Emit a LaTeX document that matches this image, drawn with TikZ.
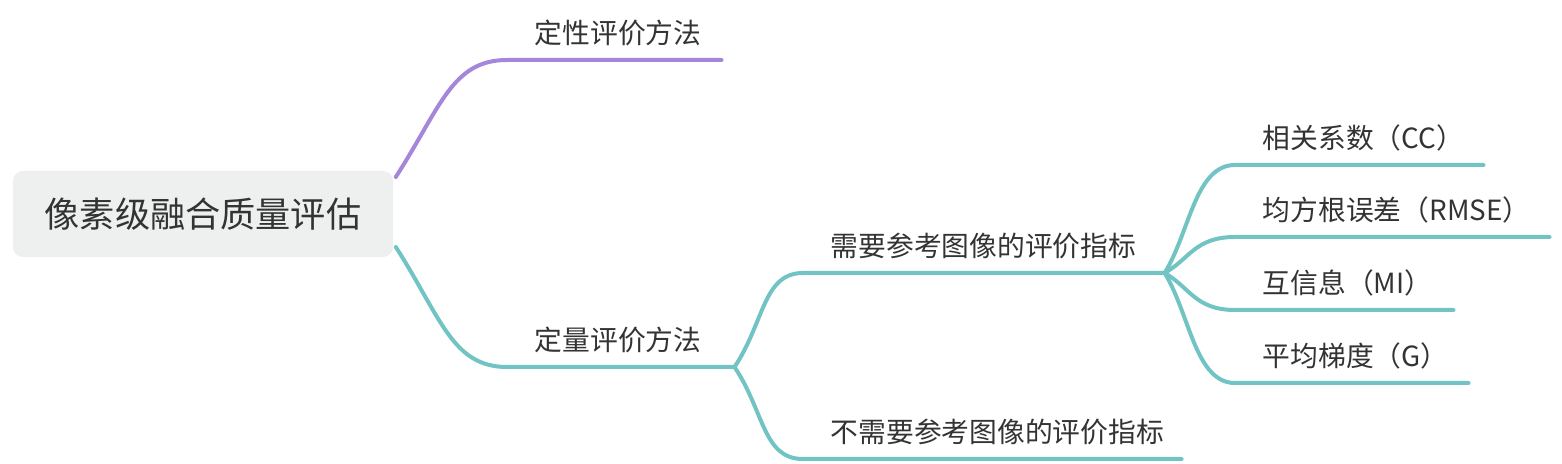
\documentclass[tikz,border=0pt]{standalone}
\usepackage{fontspec}
\setmainfont{Noto Sans CJK SC}
\usetikzlibrary{positioning}
\definecolor{rootfill}{HTML}{EEF0F0}
\definecolor{qualcolor}{HTML}{A586DB}
\definecolor{quantcolor}{HTML}{72C4C4}
\definecolor{inkcolor}{HTML}{333333}
\tikzset{
  root/.style={fill=rootfill, rounded corners=1mm, minimum width=38mm, minimum height=8.6mm, font=\fontsize{10}{12}\selectfont, text=inkcolor},
  topic/.style={text width=#1, inner xsep=0pt, inner ysep=1.55mm, text depth=0pt, align=left, anchor=south west, font=\fontsize{7.9}{10}\selectfont, text=inkcolor, execute at begin node=\hspace*{2.7mm}},
  qualline/.style={qualcolor, line width=0.4mm, line cap=round},
  quantline/.style={quantcolor, line width=0.4mm, line cap=round}
}

\begin{document}
\begin{tikzpicture}[x=0.01cm, y=-0.01cm]
\useasboundingbox (0,0) rectangle (1562,464);
\node[root] (root) at (203,214) {像素级融合质量评估};
\node[topic=21.3mm] (qual) at (507,60) {定性评价方法};
\node[topic=22.6mm] (quant) at (507,367) {定量评价方法};
\node[topic=36mm] (ref) at (803,273) {需要参考图像的评价指标};
\node[topic=37.7mm] (noref) at (803,459) {不需要参考图像的评价指标};
\node[topic=24.7mm] (cc) at (1235,165) {相关系数（CC）};
\node[topic=31.3mm] (rmse) at (1235,237) {均方根误差（RMSE）};
\node[topic=21.7mm] (mi) at (1235,310) {互信息（MI）};
\node[topic=23.2mm] (grad) at (1235,383) {平均梯度（G）};
% branches from the root
\draw[qualline] ([xshift=0.2mm,yshift=3.7mm]root.east) .. controls +(45,-70) and +(-55,0) .. (qual.south west) -- (qual.south east);
\draw[quantline] ([xshift=0.2mm,yshift=-3.3mm]root.east) .. controls +(45,70) and +(-55,0) .. (quant.south west) -- (quant.south east);
\draw[quantline] (quant.south east) .. controls +(30,-45) and +(-40,0) .. (ref.south west) -- (ref.south east);
\draw[quantline] (quant.south east) .. controls +(30,45) and +(-40,0) .. (noref.south west) -- (noref.south east);
% metrics
\foreach \leaf/\dy in {cc/-40, rmse/-14, mi/14, grad/40}
  \draw[quantline] (ref.south east) .. controls +(25,\dy) and +(-40,0) .. (\leaf.south west) -- (\leaf.south east);
\end{tikzpicture}
\end{document}
